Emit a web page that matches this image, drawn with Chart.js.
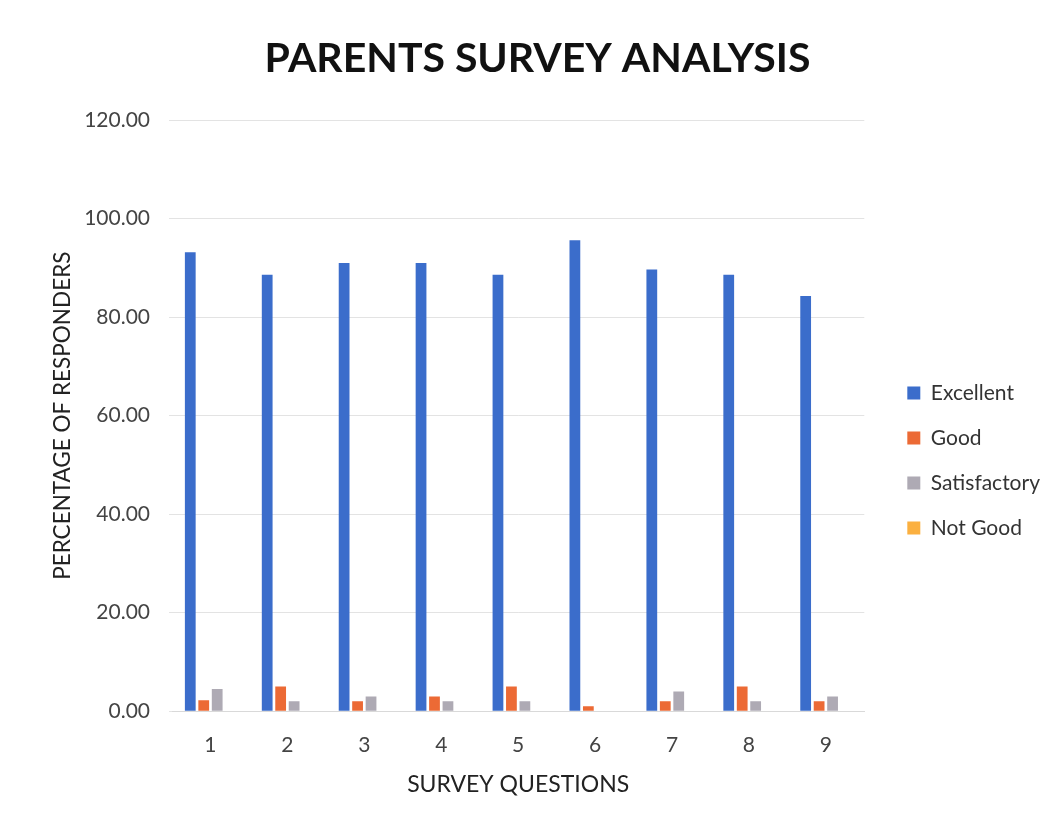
<!DOCTYPE html>
<html>
<head>
<meta charset="utf-8">
<script src="https://cdn.jsdelivr.net/npm/chart.js@4"></script>
<style>
  body { margin: 0; background: #fff; }
  #wrap { width: 1064px; height: 830px; }
</style>
</head>
<body>
<div id="wrap"><canvas id="grafico" width="1064" height="830"></canvas></div>
<script>
// Datos
var preguntas = ['1', '2', '3', '4', '5', '6', '7', '8', '9'];
var excelente = [93.2, 88.6, 91.0, 91.0, 88.6, 95.6, 89.7, 88.6, 84.3];
var bueno = [2.2, 5.0, 2.0, 3.0, 5.0, 1.0, 2.0, 5.0, 2.0];
var satisfactorio = [4.5, 2.0, 3.0, 2.0, 2.0, 0, 4.0, 2.0, 3.0];
var noBueno = [0, 0, 0, 0, 0, 0, 0, 0, 0];
var ticksY = [0, 20, 40, 60, 80, 100, 120];

var fuente = 'Lato, "Open Sans", sans-serif';

function serie(nombre, valores, color) {
    return {
        label: nombre,
        data: valores,
        backgroundColor: color,
        borderWidth: 0,
        barPercentage: 0.8,
        categoryPercentage: 0.7
    };
}

var ctx = document.getElementById('grafico').getContext('2d');
var grafico = new Chart(ctx, {
    type: 'bar',
    data: {
        labels: preguntas,
        datasets: [
            serie('Excellent', excelente, '#3b6dcb'),
            serie('Good', bueno, '#ec6a35'),
            serie('Satisfactory', satisfactorio, '#aeaab4'),
            serie('Not Good', noBueno, '#fbb040')
        ]
    },
    options: {
        responsive: false,
        animation: false,
        layout: { padding: { left: 25, right: 14, top: 20, bottom: 28 } },
        plugins: {
            title: {
                display: true,
                text: 'PARENTS SURVEY ANALYSIS',
                color: '#111',
                font: { family: fuente, size: 41, weight: 'bold' },
                padding: { top: 14, bottom: 37 }
            },
            legend: {
                position: 'right',
                title: {
                    display: true,
                    text: ' ',
                    font: { size: 1 },
                    padding: { top: 98, bottom: 0 }
                },
                labels: {
                    color: '#333',
                    font: { family: fuente, size: 21 },
                    boxWidth: 13,
                    boxHeight: 13,
                    padding: 24
                }
            },
            tooltip: { enabled: false }
        },
        scales: {
            x: {
                grid: { display: false },
                border: { color: '#d9d9d9' },
                ticks: { color: '#444', font: { family: fuente, size: 21 }, padding: 13 },
                title: {
                    display: true,
                    text: 'SURVEY QUESTIONS',
                    color: '#222',
                    font: { family: fuente, size: 23 },
                    padding: { top: 0, bottom: 4 }
                }
            },
            y: {
                min: ticksY[0],
                max: ticksY[ticksY.length - 1],
                afterBuildTicks: function(eje) {
                    eje.ticks = ticksY.map(function(v) { return { value: v }; });
                },
                afterFit: function(eje) { eje.width = 147; },
                grid: { color: '#e3e3e3', tickLength: 3 },
                border: { display: false },
                ticks: {
                    color: '#444',
                    font: { family: fuente, size: 21 },
                    padding: 19,
                    callback: function(v) { return Number(v).toFixed(2); }
                },
                title: {
                    display: true,
                    text: 'PERCENTAGE OF RESPONDERS',
                    color: '#222',
                    font: { family: fuente, size: 22.5 },
                    padding: { top: 24, bottom: 4 }
                }
            },
            // eje vacio a la derecha, solo para separar la leyenda
            derecha: {
                type: 'linear',
                position: 'right',
                display: true,
                grid: { display: false },
                border: { display: false },
                ticks: { display: false },
                afterFit: function(eje) { eje.width = 19; }
            }
        }
    }
});
</script>
</body>
</html>
